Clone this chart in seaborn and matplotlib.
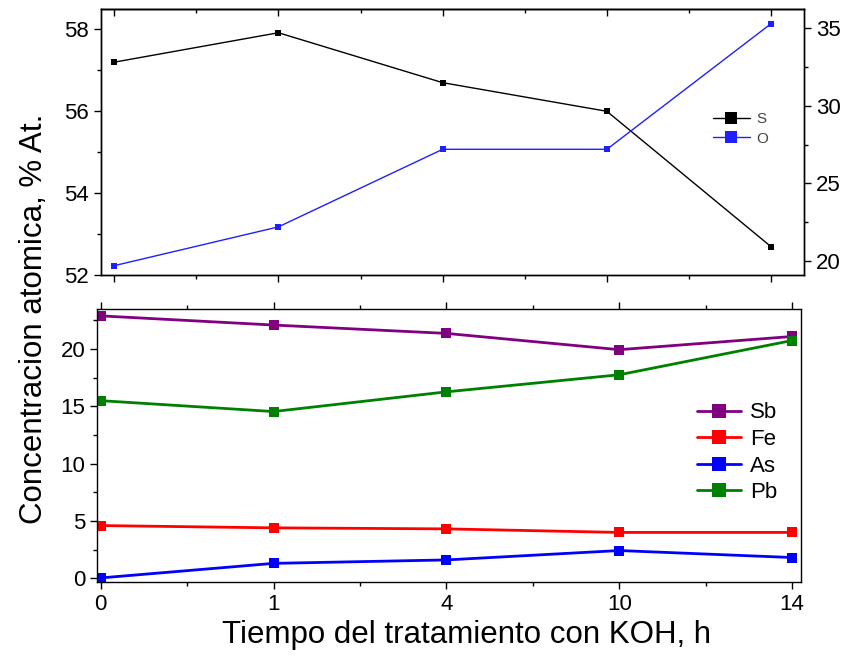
import numpy as np
import pandas as pd
import matplotlib
matplotlib.use("Agg")
import matplotlib.pyplot as plt
from matplotlib.ticker import FixedLocator, MultipleLocator
import seaborn as sns

# Treatment times (h), plotted at evenly spaced positions
times = ["0", "1", "4", "10", "14"]

# Upper panel: sulfur (left axis) and oxygen (right axis), % at.
s_vals = [57.2, 57.92, 56.7, 56.0, 52.69]
o_vals = [19.7, 22.2, 27.2, 27.2, 35.3]

# Lower panel: metals, % at.
sb_vals = [22.9, 22.1, 21.37, 19.95, 21.1]
fe_vals = [4.6, 4.4, 4.31, 4.0, 4.0]
as_vals = [0.03, 1.3, 1.6, 2.42, 1.81]
pb_vals = [15.5, 14.55, 16.27, 17.76, 20.75]

sns.set_style("ticks")
plt.rcParams["font.family"] = ["Liberation Sans", "DejaVu Sans"]
plt.rcParams.update({
    "axes.linewidth": 1.0,
    "text.color": "black",
    "axes.labelcolor": "black",
    "xtick.color": "black",
    "ytick.color": "black",
    "axes.edgecolor": "black",
})

pos = np.arange(len(times))
TICK_FS = 16

fig = plt.figure(figsize=(8.48, 6.56), dpi=100)
ax_top = fig.add_axes([101 / 848, 1 - 275 / 656, (804 - 101) / 848, (275 - 9) / 656])
ax_bot = fig.add_axes([97.3 / 848, 1 - 581.7 / 656, (800.7 - 97.3) / 848, (581.7 - 309) / 656])

# ---- upper panel ----
sns.lineplot(x=pos, y=s_vals, ax=ax_top, color="black", marker="s", markersize=5,
             markeredgewidth=0, linewidth=1.0, label="S", legend=False)
ax_r = ax_top.twinx()
sns.lineplot(x=pos, y=o_vals, ax=ax_r, color="#2020ff", marker="s", markersize=5,
             markeredgewidth=0, linewidth=1.0, label="O", legend=False)

ax_top.set_xlim(-0.08, 4.2)
ax_top.set_ylim(52, 58.5)
ax_r.set_ylim(19.1, 36.24)
ax_top.set_yticks([52, 54, 56, 58])
ax_top.yaxis.set_minor_locator(MultipleLocator(1))
ax_r.set_yticks([20, 25, 30, 35])
ax_r.yaxis.set_minor_locator(MultipleLocator(2.5))
ax_top.set_xticks(pos)
ax_top.xaxis.set_minor_locator(FixedLocator(pos[:-1] + 0.5))
ax_top.set_xticklabels([])
ax_top.set_xlabel("")
ax_top.tick_params(axis="x", which="both", bottom=True, top=False, direction="out")
ax_top.tick_params(axis="both", which="major", length=5, width=1, labelsize=TICK_FS)
ax_top.tick_params(axis="both", which="minor", length=3, width=1)
ax_r.tick_params(axis="y", which="major", length=5, width=1, labelsize=TICK_FS, direction="out")
ax_r.tick_params(axis="y", which="minor", length=3, width=1, direction="out")

# inward ticks along the top edge of the upper panel
sec = ax_top.secondary_xaxis("top")
sec.set_xticks(pos)
sec.xaxis.set_minor_locator(FixedLocator(pos[:-1] + 0.5))
sec.set_xticklabels([])
sec.tick_params(axis="x", which="major", direction="in", length=5, width=1)
sec.tick_params(axis="x", which="minor", direction="in", length=3, width=1)

for a in (ax_top, ax_r):
    for sp in a.spines.values():
        sp.set_visible(True)
        sp.set_color("black")

h1, l1 = ax_top.get_legend_handles_labels()
h2, l2 = ax_r.get_legend_handles_labels()
leg_top = ax_r.legend(h1 + h2, l1 + l2, loc="upper left", bbox_to_anchor=(0.862, 0.635),
                      frameon=False, fontsize=11, handlelength=2.4, labelspacing=0.35,
                      handletextpad=0.4, borderaxespad=0, markerscale=1.8)
for t in leg_top.get_texts():
    t.set_color("#444444")

# ---- lower panel ----
series = [("Sb", sb_vals, "#800080"), ("Fe", fe_vals, "#ff0000"),
          ("As", as_vals, "#0000ff"), ("Pb", pb_vals, "#008000")]
for name, vals, col in series:
    sns.lineplot(x=pos, y=vals, ax=ax_bot, color=col, marker="s", markersize=7,
                 markeredgewidth=0, linewidth=2.0, label=name)

ax_bot.set_xlim(-0.02, 4.05)
ax_bot.set_ylim(-0.3, 23.5)
ax_bot.set_yticks([0, 5, 10, 15, 20])
ax_bot.yaxis.set_minor_locator(MultipleLocator(2.5))
ax_bot.set_xticks(pos)
ax_bot.set_xticklabels(times)
ax_bot.xaxis.set_minor_locator(FixedLocator(pos[:-1] + 0.5))
ax_bot.tick_params(axis="x", which="both", top=True, bottom=True, direction="out")
ax_bot.tick_params(axis="both", which="major", length=5, width=1, labelsize=TICK_FS)
ax_bot.tick_params(axis="both", which="minor", length=3, width=1)
for sp in ax_bot.spines.values():
    sp.set_visible(True)
    sp.set_color("black")
ax_bot.set_xlabel("Tiempo del tratamiento con KOH, h", fontsize=22.5, labelpad=4, x=0.525)
ax_bot.legend(loc="upper left", bbox_to_anchor=(0.84, 0.69), frameon=False,
              fontsize=16, handlelength=2.0, labelspacing=0.25,
              handletextpad=0.4, borderaxespad=0, markerscale=1.5)

fig.text(0.04, (656 - 319) / 656, "Concentracion atomica, % At.", rotation=90,
         ha="center", va="center", fontsize=22.5)

fig.savefig("out.png", dpi=100)
